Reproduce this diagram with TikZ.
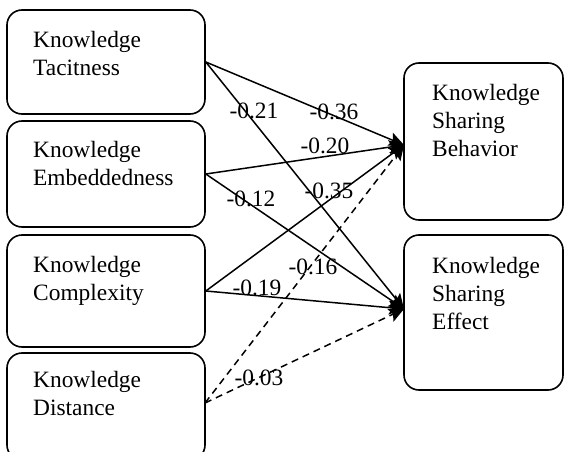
\documentclass[tikz,border=0pt]{standalone}
\usepackage{fontspec}
\setmainfont{Liberation Serif}
\usetikzlibrary{arrows.meta}
\begin{document}
\begin{tikzpicture}[x=1pt,y=-1pt,
  box/.style={draw, line width=1.6pt, rounded corners=15pt, inner sep=0pt},
  txt/.style={anchor=north west, inner sep=0pt, align=left, font=\fontsize{23.4}{28}\selectfont},
  lbl/.style={inner sep=0pt, font=\fontsize{23.4}{28}\selectfont},
  conn/.style={line width=1.5pt, -{Stealth[length=15pt,width=14pt,inset=3pt]}},
  dconn/.style={conn, dash pattern=on 7pt off 5pt}]
\useasboundingbox (0,0) rectangle (565,452);
\clip (0,0) rectangle (565,452);
% boxes
\node[box, minimum width=198pt, minimum height=104pt] (B1) at (106,62) {};
\node[box, minimum width=198pt, minimum height=106pt] (B2) at (106,174) {};
\node[box, minimum width=198pt, minimum height=112pt] (B3) at (106,291) {};
\node[box, minimum width=198pt, minimum height=107pt] (B4) at (106,406.5) {};
\node[box, minimum width=159pt, minimum height=157pt] (R1) at (483.5,141.5) {};
\node[box, minimum width=159pt, minimum height=155pt] (R2) at (483.5,312.5) {};
% texts
\node[txt] (t1) at (33,31) {Knowledge\\Tacitness};
\node[txt] (t2) at (33,141) {Knowledge\\Embeddedness};
\node[txt] (t3) at (33,256) {Knowledge\\Complexity};
\node[txt] (t4) at (33,371) {Knowledge\\Distance};
\node[txt] (t5) at (432,84) {Knowledge\\Sharing\\Behavior};
\node[txt] (t6) at (432,257) {Knowledge\\Sharing\\Effect};
% connector ends
\coordinate (s4) at (205,403);
\coordinate (tB) at (404,145);
\coordinate (tE) at (404,309);
% connectors
\draw[conn] (B1.east) -- (tB);
\draw[conn] (B1.east) -- (tE);
\draw[conn] (B2.east) -- (tB);
\draw[conn] (B2.east) -- (tE);
\draw[conn] (B3.east) -- (tB);
\draw[conn] (B3.east) -- (tE);
\draw[dconn] (s4) -- (tB);
\draw[dconn] (s4) -- (tE);
% labels
\node[lbl] (l1) at (254,111) {-0.21};
\node[lbl] (l2) at (334,112) {-0.36};
\node[lbl] (l3) at (325,146) {-0.20};
\node[lbl] (l4) at (251,199) {-0.12};
\node[lbl] (l5) at (329,191) {-0.35};
\node[lbl] (l6) at (313,267) {-0.16};
\node[lbl] (l7) at (257,288) {-0.19};
\node[lbl] (l8) at (259,378) {-0.03};
\end{tikzpicture}
\end{document}
